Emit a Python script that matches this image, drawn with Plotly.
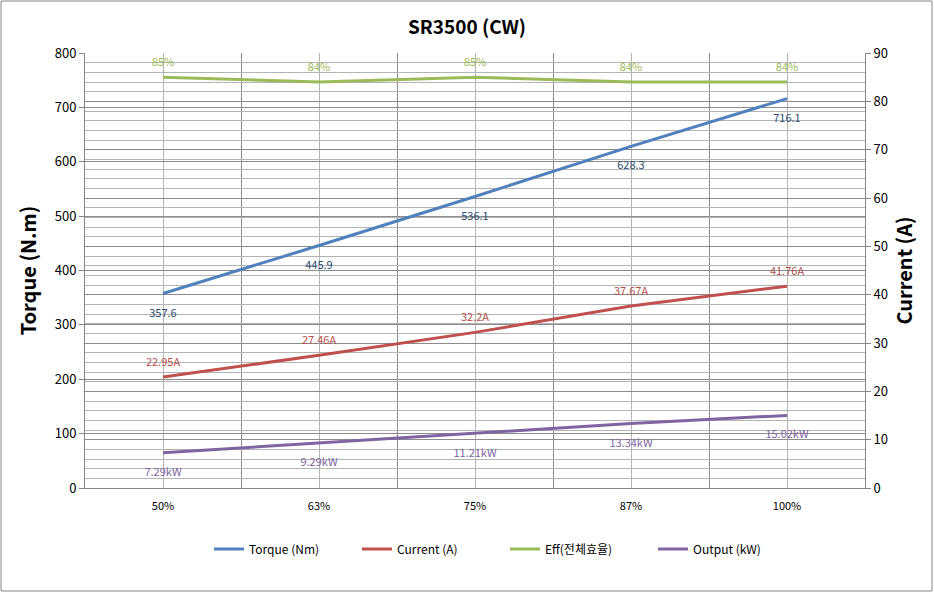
import plotly.graph_objects as go

categories = ["50%", "63%", "75%", "87%", "100%"]
torque = [357.6, 445.9, 536.1, 628.3, 716.1]
current = [22.95, 27.46, 32.2, 37.67, 41.76]
eff = [85, 84, 85, 84, 84]
output = [7.29, 9.29, 11.21, 13.34, 15.02]

FONT = "Noto Sans CJK KR"
W, H = 934, 593
ML, MR, MT, MB = 85, 69, 53, 105

xs = list(range(len(categories)))
bounds = [i - 0.5 for i in range(len(categories) + 1)]

HIDDEN_BELOW = dict(size=22, color="rgba(0,0,0,0)")
HIDDEN_ABOVE = dict(size=12, color="rgba(0,0,0,0)")

fig = go.Figure()
fig.add_trace(go.Scatter(
    x=xs, y=torque, name="Torque (Nm)", mode="lines+markers+text",
    line=dict(color="#4F81BD", width=3), marker=HIDDEN_BELOW,
    text=[f"{v:.1f}" for v in torque], textposition="bottom center",
    textfont=dict(color="#2A4A72", size=11, family=FONT), yaxis="y"))
fig.add_trace(go.Scatter(
    x=xs, y=current, name="Current (A)", mode="lines+markers+text",
    line=dict(color="#C0504D", width=3), marker=HIDDEN_ABOVE,
    text=[f"{v:g}A" for v in current], textposition="top center",
    textfont=dict(color="#B5504D", size=11, family=FONT), yaxis="y2"))
fig.add_trace(go.Scatter(
    x=xs, y=eff, name="Eff(전체효율)", mode="lines+markers+text",
    line=dict(color="#9BBB59", width=3), marker=HIDDEN_ABOVE,
    text=[f"{v}%" for v in eff], textposition="top center",
    textfont=dict(color="#9BBB59", size=11, family=FONT), yaxis="y2"))
fig.add_trace(go.Scatter(
    x=xs, y=output, name="Output (kW)", mode="lines+markers+text",
    line=dict(color="#8064A2", width=3), marker=HIDDEN_BELOW,
    text=[f"{v:.2f}kW" for v in output], textposition="bottom center",
    textfont=dict(color="#8064A2", size=11, family=FONT), yaxis="y2"))

pw = W - ML - MR
ph = H - MT - MB

fig.update_layout(
    width=W, height=H,
    margin=dict(l=ML, r=MR, t=MT, b=MB),
    paper_bgcolor="white", plot_bgcolor="white",
    font=dict(family=FONT, color="black"),
    title=dict(text="<b>SR3500 (CW)</b>", x=0.5, xanchor="center", y=1 - 27 / H, yanchor="middle",
               font=dict(size=19, family=FONT, color="black")),
    showlegend=True,
    legend=dict(orientation="h", x=(209 - ML) / pw, xanchor="left", y=-(549 - (H - MB)) / ph, yanchor="middle",
                font=dict(size=12, family=FONT, color="black"), itemwidth=30, traceorder="normal",
                entrywidth=103, entrywidthmode="pixels"),
    xaxis=dict(range=[bounds[0], bounds[-1]], tickmode="array", tickvals=xs, ticktext=categories,
               showgrid=True, gridcolor="#B4B4B4", gridwidth=1,
               minor=dict(tickvals=bounds, showgrid=True, gridcolor="#8C8C8C", gridwidth=1),
               showline=True, linecolor="#868686", linewidth=1, ticks="", zeroline=False,
               tickfont=dict(size=11, family=FONT), ticklabelstandoff=8, fixedrange=True),
    yaxis=dict(range=[0, 800], dtick=100, tick0=0, showgrid=True, gridcolor="#8C8C8C", gridwidth=1,
               showline=True, linecolor="#868686", linewidth=1, ticks="outside", ticklen=5,
               tickcolor="#868686", zeroline=False, tickfont=dict(size=13, family=FONT),
               title=dict(text="<b>Torque (N.m)</b>", font=dict(size=20, family=FONT), standoff=12)),
    yaxis2=dict(range=[0, 90], dtick=10, tick0=0, overlaying="y", side="right",
                showgrid=True, gridcolor="#8C8C8C", gridwidth=1,
                minor=dict(dtick=2, showgrid=True, gridcolor="#B4B4B4", gridwidth=1),
                showline=True, linecolor="#868686", linewidth=1, ticks="outside", ticklen=5,
                tickcolor="#868686", zeroline=False, tickfont=dict(size=13, family=FONT),
                title=dict(text="<b>Current (A)</b>", font=dict(size=20, family=FONT), standoff=10)),
)

fig.add_shape(type="rect", xref="paper", yref="paper",
              x0=-(ML - 1) / pw, x1=1 + (MR - 2) / pw, y0=-(MB - 2) / ph, y1=1 + (MT - 1) / ph,
              line=dict(color="#868686", width=1), layer="below")

fig.write_html("out.html")
